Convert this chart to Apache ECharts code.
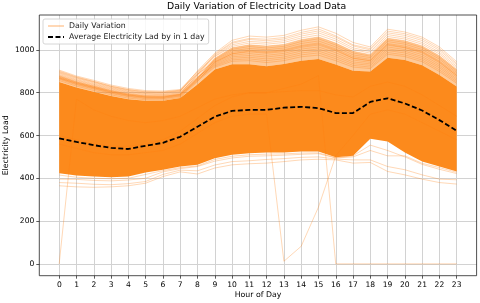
<!DOCTYPE html>
<html>
<head>
<meta charset="utf-8">
<script src="https://cdn.jsdelivr.net/npm/echarts@6/dist/echarts.min.js"></script>
<style>
html,body{margin:0;padding:0;background:#fff;}
#chart{width:480px;height:303px;}
</style>
</head>
<body>
<div id="chart"></div>
<script>
// ---- data ----
const hours = [0,1,2,3,4,5,6,7,8,9,10,11,12,13,14,15,16,17,18,19,20,21,22,23];
const xTickLabels = ['0','1','2','3','4','5','6','7','8','9','10','11','12','13','14','15','16','17','18','19','20','21','22','23'];
const yTickValues = [0,200,400,600,800,1000];

// dense core of the daily curves (where they overlap into a solid colour)
const coreTop    = [850,825,805,785,770,762,762,775,838,909,933,933,924,934,950,958,932,903,899,963,953,928,883,829];
const coreBottom = [424,413,408,405,408,427,440,455,463,494,510,517,520,520,525,525,498,505,585,572,520,478,455,432];
// upper limit of the half-dense zone just above the core
const haloTop    = [880,853,833,812,796,787,786,795,871,961,1010,1024,1018,1026,1048,1061,1032,994,978,1055,1043,1019,973,909];

// individual daily curves visible above the core
const day01 = [906,878,858,836,820,810,808,815,899,971,1024,1040,1035,1043,1065,1080,1051,1010,992,1072,1059,1035,989,923];
const day02 = [896,869,849,827,811,801,800,808,902,985,1045,1065,1060,1068,1092,1108,1078,1035,1014,1097,1084,1060,1014,945];
const day03 = [886,859,839,818,802,793,791,800,884,961,1010,1024,1018,1026,1048,1061,1032,994,978,1055,1043,1019,973,909];
const day04 = [899,872,852,830,814,804,802,810,886,947,989,999,992,1001,1021,1033,1005,969,956,1030,1018,994,948,887];
const day05 = [876,850,830,809,793,784,783,793,884,976,1031,1049,1043,1051,1074,1089,1060,1019,1000,1080,1068,1044,998,931];
const day06 = [880,853,833,812,796,787,786,795,871,938,975,983,975,984,1004,1014,987,953,942,1014,1002,978,932,873];
const day07 = [870,843,823,802,787,778,777,788,868,952,996,1007,1001,1009,1030,1042,1014,977,964,1039,1027,1002,957,894];
const day08 = [890,862,842,821,805,796,794,803,873,928,961,966,958,967,986,995,968,936,928,997,986,961,916,858];
const day09 = [863,837,817,796,781,772,772,783,860,933,968,974,967,976,995,1005,977,944,935,1005,994,969,924,865];
const day10 = [866,840,820,799,784,775,774,785,856,919,947,950,941,950,968,976,950,920,913,980,969,945,899,844];
const day11 = [857,831,811,790,775,767,766,778,852,942,982,991,984,992,1012,1023,996,961,949,1022,1010,986,940,880];
const day12 = [902,874,853,831,815,806,804,812,893,980,1036,1054,1050,1058,1082,1098,1066,1024,1006,1088,1076,1052,1006,937];
const day13 = [893,866,846,824,808,798,797,806,891,968,1017,1032,1027,1035,1056,1070,1042,1002,985,1063,1051,1027,981,916];
const day14 = [883,856,836,815,799,790,789,798,878,956,1003,1016,1009,1017,1039,1052,1023,986,971,1047,1035,1011,965,902];
const day15 = [873,847,826,806,790,781,780,791,866,944,982,995,988,997,1017,1028,1000,962,950,1026,1012,990,944,880];
const day16 = [868,845,825,804,789,780,779,790,862,924,954,958,950,959,977,986,959,928,920,988,977,953,907,851];

// individual daily curves visible below the core
const low01 = [415,405,400,398,400,418,436,450,458,488,503,510,513,514,518,519,496,505,555,530,500,465,442,422];
const low02 = [396,395,390,388,392,400,430,445,455,480,495,503,505,508,512,515,495,500,530,505,505,470,450,428];
const low03 = [380,377,372,370,375,385,418,438,435,462,478,482,488,492,498,500,490,486,486,455,440,416,396,393];
const low04 = [365,360,358,360,365,377,408,430,420,448,463,468,471,478,486,489,486,471,474,432,416,396,380,373];

// outlier days
const outA = [0,770,720,690,670,660,670,690,730,770,790,800,800,805,810,810,790,780,830,850,830,790,740,690];
const outB = [560,540,520,510,510,520,530,560,610,660,690,700,700,12,82,265,505,600,700,720,700,660,620,580];
const outC = [600,580,560,550,550,560,580,620,680,740,780,800,800,820,840,880,0,0,0,0,0,0,0,0];

// hourly average
const average = [587,570,555,542,537,552,566,594,641,688,715,720,720,730,734,728,705,705,757,774,750,717,672,622];

// ---- chart ----
const ORANGE = 'rgb(252,138,28)';
const THIN = 'rgba(255,127,14,0.3)';
const FONT = 'DejaVu Sans';
const pts = arr => hours.map((h, i) => [h, arr[i]]);

function bandSeries(upper, lower, fill, z) {
  return {
    name: 'core', type: 'custom', xAxisIndex: 0, yAxisIndex: 0, z: z, silent: true,
    data: [[0, 0]],
    renderItem: (params, api) => {
      const top = hours.map((h, i) => api.coord([h, upper[i]]));
      const bot = hours.map((h, i) => api.coord([h, lower[i]])).reverse();
      return {type: 'polygon', shape: {points: top.concat(bot)}, style: {fill: fill, stroke: null}};
    }
  };
}

const series = [];
series.push(bandSeries(haloTop, coreTop, 'rgba(252,138,28,0.45)', 2));
series.push(bandSeries(coreTop, coreBottom, ORANGE, 2));
const thinDays = [day01,day02,day03,day04,day05,day06,day07,day08,day09,day10,day11,day12,day13,day14,day15,day16,
                  low01,low02,low03,low04,outA,outB,outC];
thinDays.forEach(d => {
  series.push({
    name: 'Daily Variation', type: 'line', xAxisIndex: 0, yAxisIndex: 0,
    data: pts(d), symbol: 'none', lineStyle: {color: THIN, width: 1}, itemStyle: {color: THIN}, z: 3, silent: true
  });
});
series.push({
  name: 'Average Electricity Lad by in 1 day', type: 'line', xAxisIndex: 0, yAxisIndex: 0,
  data: pts(average), symbol: 'none',
  lineStyle: {color: '#000', width: 1.8, type: [5, 2.5]}, itemStyle: {color: '#000'}, z: 5, silent: true
});

const hidden = {axisLine: {show: false}, axisTick: {show: false}, axisLabel: {show: false}, splitLine: {show: false}};
const labelStyle = {fontFamily: FONT, fontSize: 7.6, color: '#000'};
const gridBase = {containLabel: false, outerBoundsMode: 'none'};

const option = {
  animation: false,
  backgroundColor: '#fff',
  title: {
    text: 'Daily Variation of Electricity Load Data',
    left: 167, top: 2.5, padding: 0,
    textStyle: {fontFamily: FONT, fontSize: 9.3, fontWeight: 'normal', color: '#000'}
  },
  legend: {
    data: ['Daily Variation', 'Average Electricity Lad by in 1 day'],
    orient: 'vertical', left: 43, top: 19,
    itemWidth: 16, itemHeight: 8, itemGap: 3,
    padding: [3, 4, 3, 4],
    itemStyle: {opacity: 0},
    backgroundColor: 'rgba(255,255,255,0.85)', borderColor: '#cccccc', borderWidth: 0.8, borderRadius: 2,
    textStyle: {fontFamily: FONT, fontSize: 7.8, color: '#222'}
  },
  grid: [
    Object.assign({left: 39.3, top: 15, width: 437.3, height: 260.7, show: true, borderColor: '#222', borderWidth: 0.8, backgroundColor: 'transparent', z: 6}, gridBase),
    Object.assign({left: 59.3, top: 15, width: 397.4, height: 260.7}, gridBase),
    Object.assign({left: 39.3, top: 49.8, width: 437.3, height: 214.5}, gridBase)
  ],
  xAxis: [
    Object.assign({gridIndex: 0, type: 'value', min: -1.15, max: 24.15,
      name: 'Hour of Day', nameLocation: 'middle', nameGap: 15.5,
      nameTextStyle: {fontFamily: FONT, fontSize: 7.8, color: '#000'}}, hidden),
    {gridIndex: 1, type: 'value', min: 0, max: 23, interval: 1,
      axisLine: {show: false},
      axisTick: {show: true, length: 3, lineStyle: {color: '#333', width: 0.8}},
      axisLabel: Object.assign({margin: 5, formatter: v => xTickLabels[v] !== undefined ? xTickLabels[v] : ''}, labelStyle),
      splitLine: {show: true, lineStyle: {color: '#d2d2d2', width: 1}}},
    Object.assign({gridIndex: 2, type: 'value', min: 0, max: 1}, hidden)
  ],
  yAxis: [
    Object.assign({gridIndex: 0, type: 'value', min: -55.4, max: 1163.4,
      name: 'Electricity Load', nameLocation: 'middle', nameGap: 29.3,
      nameTextStyle: {fontFamily: FONT, fontSize: 7.8, color: '#000'}}, hidden),
    Object.assign({gridIndex: 1, type: 'value', min: 0, max: 1}, hidden),
    {gridIndex: 2, type: 'value', min: 0, max: 1000, interval: 200,
      axisLine: {show: false},
      axisTick: {show: true, length: 3, lineStyle: {color: '#333', width: 0.8}},
      axisLabel: Object.assign({margin: 5, formatter: v => yTickValues.indexOf(v) >= 0 ? String(v) : ''}, labelStyle),
      splitLine: {show: true, lineStyle: {color: '#d2d2d2', width: 1}}}
  ],
  series: series
};

const chart = echarts.init(document.getElementById('chart'), null, {renderer: 'canvas'});
chart.setOption(option);
</script>
</body>
</html>
